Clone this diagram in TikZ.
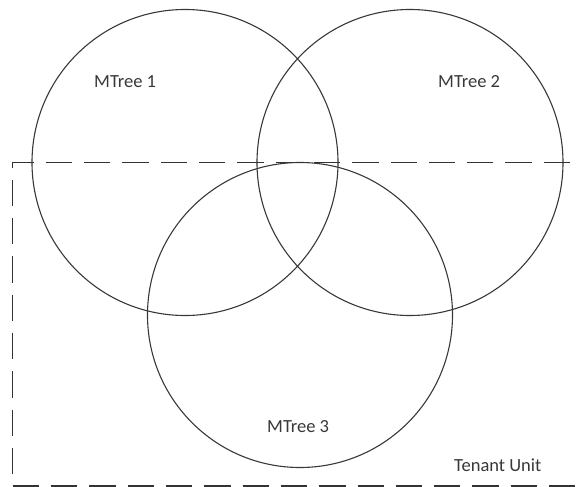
\documentclass[tikz,border=0pt]{standalone}
\usepackage{fontspec}
\setmainfont{Carlito}
\begin{document}
\begin{tikzpicture}[x=1pt,y=-1pt,
  ring/.style={circle,draw=black!78,line width=1.1pt,inner sep=0pt,minimum size=#1},
  lbl/.style={anchor=base west,inner sep=0pt,text=black!78,font=\fontsize{18.5}{22}\selectfont},
  tenant/.style={draw=black!80,line width=1.1pt,dash pattern=on 26.3pt off 12pt}]
\useasboundingbox (0,0) rectangle (576,487);
\node[ring=306pt] (c1) at (185,162.5) {};
\node[ring=306pt] (c2) at (410,162.5) {};
\node[ring=305pt] (c3) at (300,315) {};
\coordinate (tr) at (570,162.5);
\coordinate (tl) at (12.7,162.5);
\coordinate (bl) at (12.7,486);
\coordinate (br) at (576,486);
\draw[tenant] (tr) -- (tl) -- (bl) -- (br);
\node[lbl] (m1) at (94,88) {MTree 1};
\node[lbl] (m2) at (438,88) {MTree 2};
\node[lbl] (m3) at (267,432) {MTree 3};
\node[lbl] (tu) at (454,471) {Tenant Unit};
\end{tikzpicture}
\end{document}
